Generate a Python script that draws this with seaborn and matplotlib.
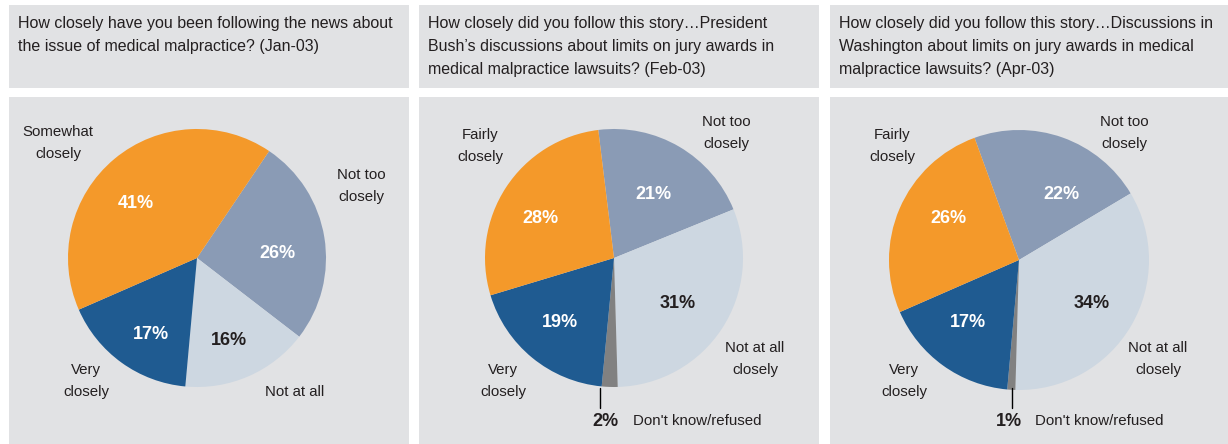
import matplotlib
matplotlib.use("Agg")
import matplotlib.pyplot as plt
import seaborn as sns

sns.set_theme(style="white")
plt.rcParams["font.family"] = ["Liberation Sans", "DejaVu Sans"]

# 数据
titles = [
    "How closely have you been following the news about\nthe issue of medical malpractice? (Jan-03)",
    "How closely did you follow this story\u2026President\nBush\u2019s discussions about limits on jury awards in\nmedical malpractice lawsuits? (Feb-03)",
    "How closely did you follow this story\u2026Discussions in\nWashington about limits on jury awards in medical\nmalpractice lawsuits? (Apr-03)",
]
labels_jan = ["Not too\nclosely", "Not at all", "Very\nclosely", "Somewhat\nclosely"]
values_jan = [26, 16, 17, 41]
labels_feb = ["Not too\nclosely", "Not at all\nclosely", "Don't know/refused", "Very\nclosely", "Fairly\nclosely"]
values_feb = [21, 31, 2, 19, 28]
labels_apr = ["Not too\nclosely", "Not at all\nclosely", "Don't know/refused", "Very\nclosely", "Fairly\nclosely"]
values_apr = [22, 34, 1, 17, 26]

# 颜色
ORANGE = "#F4992A"
NAVY = "#1F5B91"
STEEL = "#8A9BB5"
LIGHT = "#CDD7E1"
GREY = "#818181"
BG = "#E1E2E4"
TXT = "#231F20"

colors_jan = [STEEL, LIGHT, NAVY, ORANGE]
colors_5 = [STEEL, LIGHT, GREY, NAVY, ORANGE]

W, H = 1228, 444
fig = plt.figure(figsize=(W / 100, H / 100), dpi=100)
fig.patch.set_facecolor("white")

TITLE_FS = 11.5
LABEL_FS = 10.8
PCT_FS = 13


def px_axes(x0, y0, x1, y1):
    ax = fig.add_axes([x0 / W, 1 - y1 / H, (x1 - x0) / W, (y1 - y0) / H])
    ax.set_xlim(x0, x1)
    ax.set_ylim(H - y1, H - y0)
    ax.set_facecolor(BG)
    ax.set_xticks([])
    ax.set_yticks([])
    for s in ax.spines.values():
        s.set_visible(False)
    return ax


panels = [(9, 409), (419, 819), (830, 1228)]

# 每个面板：饼图中心、半径、起始角度、标签位置、百分比位置
specs = [
    dict(vals=values_jan, labs=labels_jan, cols=colors_jan, c=(197, 258), r=129, start=56,
         lab_pos=[(361, 186), (295, 392), (86, 381), (58, 143)],
         pct_pos=[(277, 253), (229, 340), (151, 334), (136, 203)],
         pct_col=["white", TXT, "white", "white"]),
    dict(vals=values_feb, labs=labels_feb, cols=colors_5, c=(614, 258), r=129, start=97,
         lab_pos=[(726, 133), (755, 359), None, (503, 381), (480, 146)],
         pct_pos=[(653, 194), (678, 303), None, (560, 322), (540, 218)],
         pct_col=["white", TXT, TXT, "white", "white"],
         dk=(605, 633, 600)),
    dict(vals=values_apr, labs=labels_apr, cols=colors_5, c=(1019, 260), r=130, start=110,
         lab_pos=[(1124, 133), (1158, 359), None, (904, 381), (892, 146)],
         pct_pos=[(1061, 194), (1092, 303), None, (968, 322), (948, 218)],
         pct_col=["white", TXT, TXT, "white", "white"],
         dk=(1009, 1035, 1012)),
]

for (x0, x1), title, sp in zip(panels, titles, specs):
    hax = px_axes(x0, 5, x1, 88)
    hax.text(x0 + 9, H - 16, title, ha="left", va="top", fontsize=TITLE_FS,
             color=TXT, linespacing=1.66)

    ax = px_axes(x0, 97, x1, H)
    cx, cy = sp["c"]
    ax.pie(sp["vals"], colors=sp["cols"], startangle=sp["start"], counterclock=False,
           center=(cx, H - cy), radius=sp["r"], frame=True,
           wedgeprops=dict(linewidth=0))
    ax.set_xlim(x0, x1)
    ax.set_ylim(0, H - 97)
    ax.set_aspect("equal")
    ax.set_xticks([])
    ax.set_yticks([])

    for lab, pos in zip(sp["labs"], sp["lab_pos"]):
        if pos is None:
            continue
        ax.text(pos[0], H - pos[1], lab, ha="center", va="center", fontsize=LABEL_FS,
                color=TXT, linespacing=1.68)
    for v, pos, col in zip(sp["vals"], sp["pct_pos"], sp["pct_col"]):
        if pos is None:
            continue
        ax.text(pos[0], H - pos[1], f"{v}%", ha="center", va="center", fontsize=PCT_FS,
                fontweight="bold", color=col)

    if "dk" in sp:
        px, lx, linex = sp["dk"]
        idx = 2
        ax.text(px, H - 421, f"{sp['vals'][idx]}%", ha="center", va="center",
                fontsize=PCT_FS, fontweight="bold", color=TXT)
        ax.text(lx, H - 421, sp["labs"][idx], ha="left", va="center", fontsize=LABEL_FS,
                color=TXT)
        ax.plot([linex, linex], [H - 388, H - 408], color="black", linewidth=1)

fig.savefig("out.png", dpi=100, facecolor="white")
